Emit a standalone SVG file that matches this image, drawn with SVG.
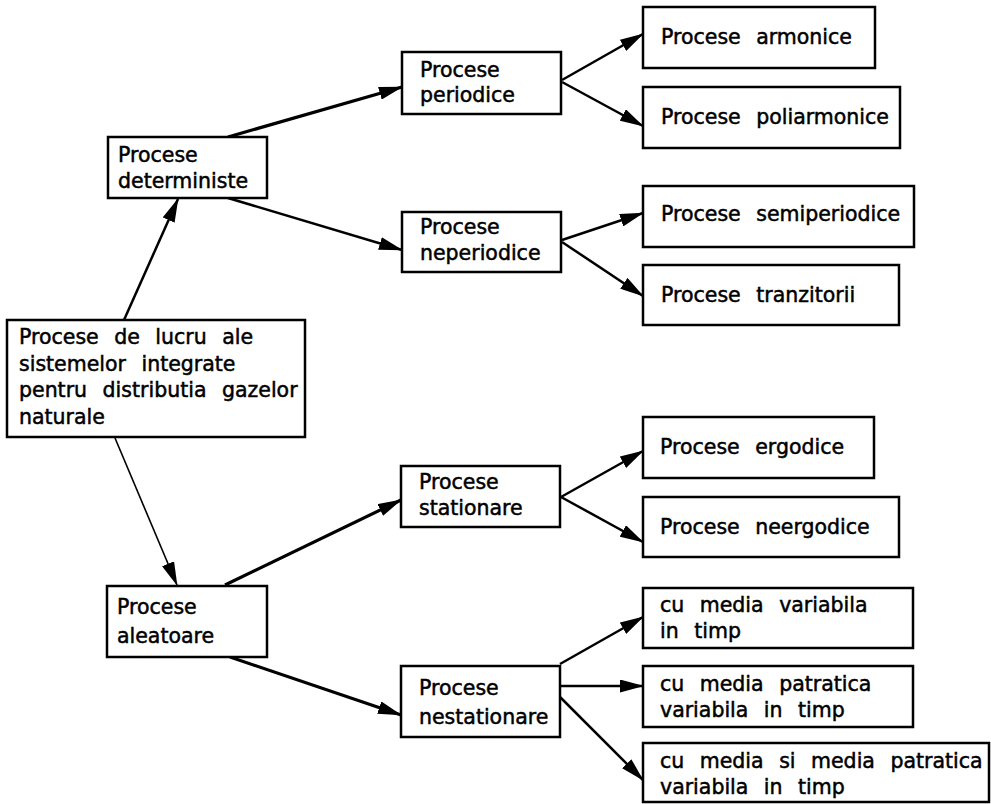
<svg xmlns="http://www.w3.org/2000/svg" width="991" height="804" viewBox="0 0 991 804">
  <defs>
    <marker id="arrow" markerUnits="userSpaceOnUse" markerWidth="24" markerHeight="13" refX="23" refY="6.5" orient="auto">
      <path d="M0,0 L24,6.5 L0,13 Z" fill="#000"/>
    </marker>
    <style>
      .box { fill: #fff; stroke: #000; stroke-width: 2.5; }
      .lbl { font-family: "DejaVu Sans", "Liberation Sans", sans-serif; font-size: 20.5px; fill: #000; stroke: #000; stroke-width: 0.5; word-spacing: 9px; }
      .edge { stroke: #000; stroke-width: 2.5; fill: none; marker-end: url(#arrow); }
      .thick { stroke-width: 3.2; }
      .thin { stroke-width: 1.6; }
    </style>
  </defs>
  <rect width="991" height="804" fill="#fff"/>

  <g id="connectors">
    <line class="edge" x1="124" y1="320" x2="178" y2="199"/>
    <line class="edge thin" x1="115" y1="438" x2="177" y2="585"/>
    <line class="edge thick" x1="228" y1="137" x2="402" y2="87"/>
    <line class="edge" x1="228" y1="198" x2="402" y2="250"/>
    <line class="edge" x1="562" y1="80" x2="643" y2="34"/>
    <line class="edge" x1="562" y1="82" x2="643" y2="126"/>
    <line class="edge" x1="562" y1="240" x2="643" y2="213"/>
    <line class="edge" x1="562" y1="242" x2="643" y2="296"/>
    <line class="edge thick" x1="225" y1="585" x2="401" y2="500"/>
    <line class="edge thick" x1="230" y1="657" x2="401" y2="715"/>
    <line class="edge" x1="561" y1="497" x2="643" y2="451"/>
    <line class="edge" x1="561" y1="497" x2="643" y2="542"/>
    <line class="edge" x1="560" y1="664" x2="643" y2="617"/>
    <line class="edge" x1="560" y1="686" x2="643" y2="686"/>
    <line class="edge" x1="560" y1="697" x2="643" y2="780"/>
  </g>

  <g id="root">
    <rect class="box" x="7" y="320" width="298" height="117"/>
    <text class="lbl" x="19" y="344">Procese de lucru ale</text>
    <text class="lbl" x="19" y="371">sistemelor integrate</text>
    <text class="lbl" x="19" y="397">pentru distributia gazelor</text>
    <text class="lbl" x="19" y="424">naturale</text>
  </g>

  <g id="deterministe">
    <rect class="box" x="108" y="137" width="159" height="61"/>
    <text class="lbl" x="118" y="162">Procese</text>
    <text class="lbl" x="118" y="188">deterministe</text>
  </g>

  <g id="aleatoare">
    <rect class="box" x="107" y="586" width="160" height="71"/>
    <text class="lbl" x="117" y="614">Procese</text>
    <text class="lbl" x="117" y="643">aleatoare</text>
  </g>

  <g id="periodice">
    <rect class="box" x="402" y="52" width="159" height="62"/>
    <text class="lbl" x="420" y="77">Procese</text>
    <text class="lbl" x="420" y="102">periodice</text>
  </g>

  <g id="neperiodice">
    <rect class="box" x="402" y="212" width="159" height="60"/>
    <text class="lbl" x="420" y="234">Procese</text>
    <text class="lbl" x="420" y="260">neperiodice</text>
  </g>

  <g id="stationare">
    <rect class="box" x="401" y="466" width="159" height="61"/>
    <text class="lbl" x="419" y="489">Procese</text>
    <text class="lbl" x="419" y="515">stationare</text>
  </g>

  <g id="nestationare">
    <rect class="box" x="401" y="666" width="159" height="71"/>
    <text class="lbl" x="419" y="695">Procese</text>
    <text class="lbl" x="419" y="724">nestationare</text>
  </g>

  <g id="armonice">
    <rect class="box" x="643" y="7" width="232" height="61"/>
    <text class="lbl" x="661" y="44">Procese armonice</text>
  </g>

  <g id="poliarmonice">
    <rect class="box" x="643" y="87" width="257" height="61"/>
    <text class="lbl" x="661" y="124">Procese poliarmonice</text>
  </g>

  <g id="semiperiodice">
    <rect class="box" x="643" y="186" width="271" height="61"/>
    <text class="lbl" x="661" y="221">Procese semiperiodice</text>
  </g>

  <g id="tranzitorii">
    <rect class="box" x="643" y="265" width="256" height="60"/>
    <text class="lbl" x="661" y="302">Procese tranzitorii</text>
  </g>

  <g id="ergodice">
    <rect class="box" x="643" y="417" width="231" height="61"/>
    <text class="lbl" x="660" y="454">Procese ergodice</text>
  </g>

  <g id="neergodice">
    <rect class="box" x="643" y="497" width="256" height="60"/>
    <text class="lbl" x="660" y="534">Procese neergodice</text>
  </g>

  <g id="media-variabila">
    <rect class="box" x="643" y="588" width="270" height="60"/>
    <text class="lbl" x="660" y="612">cu media variabila</text>
    <text class="lbl" x="660" y="638">in timp</text>
  </g>

  <g id="media-patratica">
    <rect class="box" x="643" y="666" width="270" height="61"/>
    <text class="lbl" x="660" y="691">cu media patratica</text>
    <text class="lbl" x="660" y="717">variabila in timp</text>
  </g>

  <g id="media-si-patratica">
    <rect class="box" x="643" y="743" width="346" height="59"/>
    <text class="lbl" x="660" y="768">cu media si media patratica</text>
    <text class="lbl" x="660" y="794">variabila in timp</text>
  </g>
</svg>
